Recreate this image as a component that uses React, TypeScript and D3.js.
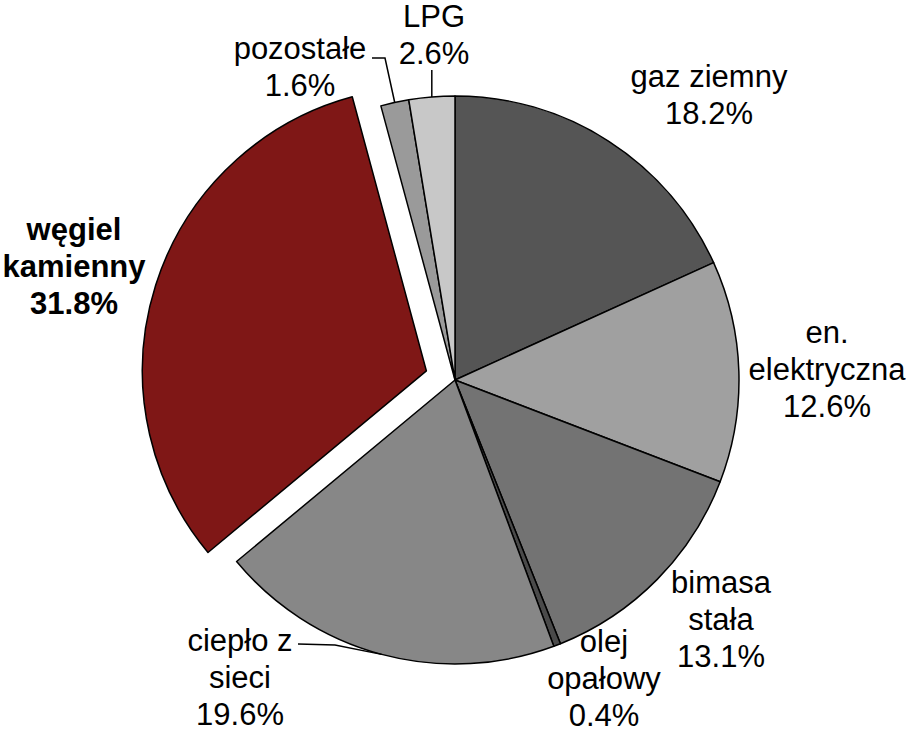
import * as d3 from "d3";
import { useEffect, useRef } from "react";

const categories = ["gaz ziemny", "en. elektryczna", "bimasa stała", "olej opałowy", "ciepło z sieci", "węgiel kamienny", "pozostałe", "LPG"];
const shares = [18.2, 12.6, 13.1, 0.4, 19.6, 31.8, 1.6, 2.6];
const labelLines = [
    ["gaz ziemny"],
    ["en.", "elektryczna"],
    ["bimasa", "stała"],
    ["olej", "opałowy"],
    ["ciepło z", "sieci"],
    ["węgiel", "kamienny"],
    ["pozostałe"],
    ["LPG"],
];
const colors = ["#555555", "#a0a0a0", "#737373", "#4a4a4a", "#878787", "#7f1716", "#9a9a9a", "#c8c8c8"];

const width = 911;
const height = 731;

// label anchor (centre of first line)
const labelPos = [
    [709, 76], [827, 332], [721, 582], [604, 641],
    [240, 640], [74, 229], [300, 48], [434, 16],
];

const App = () => {
    const svgRef = useRef(null);

    useEffect(() => {
        const svg = d3.select(svgRef.current);
        svg.selectAll("*").remove();

        const cx = 455, cy = 380, r = 284;
        const explode = 30;
        const exploded = 5;

        const pie = d3.pie().sort(null).value(d => d);
        const arcs = pie(shares);
        const arc = d3.arc().innerRadius(0).outerRadius(r);

        const g = svg.append("g").attr("transform", `translate(${cx},${cy})`);

        g.selectAll("path.slice")
            .data(arcs)
            .join("path")
            .attr("class", "slice")
            .attr("d", arc)
            .attr("fill", (d, i) => colors[i])
            .attr("stroke", "#000")
            .attr("stroke-width", 1.5)
            .attr("stroke-linejoin", "round")
            .attr("transform", (d, i) => {
                if (i !== exploded) return null;
                const mid = (d.startAngle + d.endAngle) / 2;
                return `translate(${explode * Math.sin(mid)},${-explode * Math.cos(mid)})`;
            });

        const edge = (i) => {
            const mid = (arcs[i].startAngle + arcs[i].endAngle) / 2;
            return [cx + r * Math.sin(mid), cy - r * Math.cos(mid)];
        };

        // leader lines
        const leader = d3.line();
        const [px, py] = edge(6);
        svg.append("path")
            .attr("d", leader([[372, 58], [385, 58], [px, py]]))
            .attr("fill", "none").attr("stroke", "#000").attr("stroke-width", 1.5);
        const [lx, ly] = edge(7);
        svg.append("path")
            .attr("d", leader([[lx, 70], [lx, ly]]))
            .attr("fill", "none").attr("stroke", "#000").attr("stroke-width", 1.5);
        const [hx, hy] = edge(4);
        svg.append("path")
            .attr("d", leader([[298, 644], [335, 645], [hx, hy]]))
            .attr("fill", "none").attr("stroke", "#000").attr("stroke-width", 1.5);

        const fs = 31, lh = 37;
        categories.forEach((c, i) => {
            const lines = [...labelLines[i], `${shares[i].toFixed(1)}%`];
            const t = svg.append("text")
                .attr("text-anchor", "middle")
                .attr("font-family", "'Liberation Sans', Arial, sans-serif")
                .attr("font-size", fs)
                .attr("font-weight", i === exploded ? "bold" : "normal")
                .attr("fill", "#000");
            lines.forEach((ln, k) => {
                t.append("tspan")
                    .attr("x", labelPos[i][0])
                    .attr("y", labelPos[i][1] + 11 + k * lh)
                    .text(ln);
            });
        });
    }, []);

    return <svg ref={svgRef} width={width} height={height} style={{ position: "absolute", left: 0, top: 0 }} />;
};

export default App;
